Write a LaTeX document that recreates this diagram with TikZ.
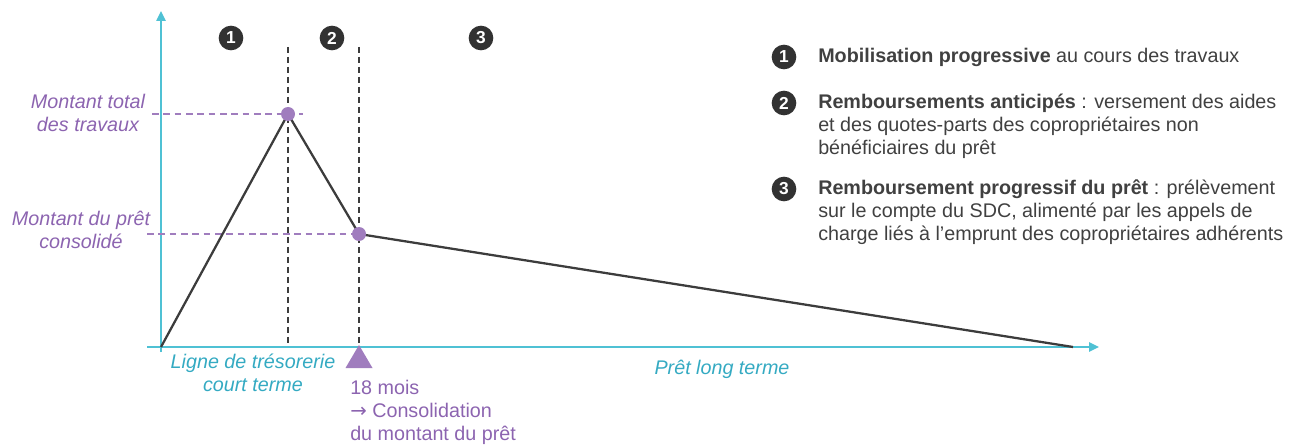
\documentclass[tikz,border=0pt]{standalone}
\usepackage{fontspec}
\setmainfont{Liberation Sans}
\newfontfamily\arrowfont{DejaVu Sans}
\usetikzlibrary{arrows.meta}

\definecolor{axiscyan}{RGB}{79,193,212}
\definecolor{labcyan}{RGB}{52,170,194}
\definecolor{purptext}{RGB}{140,100,176}
\definecolor{purpdot}{RGB}{160,125,190}
\definecolor{darkline}{RGB}{60,60,60}
\definecolor{legtext}{RGB}{64,64,64}
\definecolor{numgray}{RGB}{50,50,50}

\begin{document}
\begin{tikzpicture}[x=0.75pt,y=0.75pt,yscale=-1,xscale=1,
    axis/.style={draw=axiscyan,line width=1.1pt,-{Triangle[length=7.5pt,width=7pt]}},
    curve/.style={draw=darkline,line width=1.7pt,line join=round},
    vdash/.style={draw=darkline,line width=1pt,dash pattern=on 4.5pt off 3pt},
    hdash/.style={draw=purpdot,line width=1pt,dash pattern=on 5pt off 3.5pt},
    dot/.style={circle,fill=purpdot,minimum size=10.5pt,inner sep=0pt},
    num/.style={circle,fill=numgray,text=white,minimum size=18.5pt,inner sep=0pt,
      font=\bfseries\fontsize{13}{13}\selectfont},
    txt/.style={inner sep=0pt,font=\fontsize{14.8}{17.3}\selectfont},
    vallab/.style={txt,text=purptext,align=center,font=\itshape\fontsize{14.8}{17.3}\selectfont},
    axlab/.style={txt,text=labcyan,align=center,font=\itshape\fontsize{14.8}{17.3}\selectfont},
    legend/.style={txt,text=legtext,align=left,anchor=west}]
  \useasboundingbox (0,0) rectangle (1296,445);

  % axes
  \coordinate (yb) at (161,352);
  \coordinate (yt) at (161,11);
  \coordinate (xl) at (147,347);
  \coordinate (xr) at (1099,347);
  \draw[axis] (yb) -- (yt);
  \draw[axis] (xl) -- (xr);

  % curve
  \coordinate (o) at (161,347);
  \coordinate (peak) at (288,114);
  \coordinate (cons) at (359,234);
  \coordinate (endl) at (1073,347);

  % dashed guides
  \coordinate (v1top) at (288,47);
  \coordinate (v2top) at (359,47);
  \draw[vdash] (v1top) -- (peak |- o);
  \draw[vdash] (v2top) -- (cons |- o);
  \coordinate (h1l) at (152,114);
  \coordinate (h1r) at (303,114);
  \coordinate (h2l) at (147,234);
  \draw[hdash] (h1l) -- (h1r);
  \draw[hdash] (h2l) -- (cons);

  \draw[curve] (o) -- (peak) -- (cons) -- (endl);
  \node[dot] (peakdot) at (peak) {};
  \node[dot] (consdot) at (cons) {};

  % 18 mois marker
  \fill[purpdot] (359,345) -- (372.5,368) -- (345.5,368) -- cycle;

  % phase numbers
  \node[num] (p1) at (231,38) {1};
  \node[num] (p2) at (332,38) {2};
  \node[num] (p3) at (481,38) {3};

  % labels
  \node[vallab] (ltot) at (88,113) {Montant total\\des travaux};
  \node[vallab] (lcons) at (81,230) {Montant du prêt\\consolidé};
  \node[axlab] (lct) at (253,373) {Ligne de trésorerie\\court terme};
  \node[axlab] (llt) at (722,369) {Prêt long terme};
  \node[txt,text=purptext,align=left,anchor=west] (l18) at (350,412)
    {18 mois\\{\arrowfont →} Consolidation\\du montant du prêt};

  % legend
  \node[num] (k1) at (784,57) {1};
  \node[num] (k2) at (784,103) {2};
  \node[num] (k3) at (784,189) {3};
  \node[legend] (t1) at (818,57) {\textbf{Mobilisation progressive} au cours des travaux};
  \node[legend] (t2) at (818,126)
    {\textbf{Remboursements anticipés} : versement des aides\\
     et des quotes-parts des copropriétaires non\\
     bénéficiaires du prêt};
  \node[legend] (t3) at (818,212.5)
    {\textbf{Remboursement progressif du prêt} : prélèvement\\
     sur le compte du SDC, alimenté par les appels de\\
     charge liés à l’emprunt des copropriétaires adhérents};
\end{tikzpicture}
\end{document}
